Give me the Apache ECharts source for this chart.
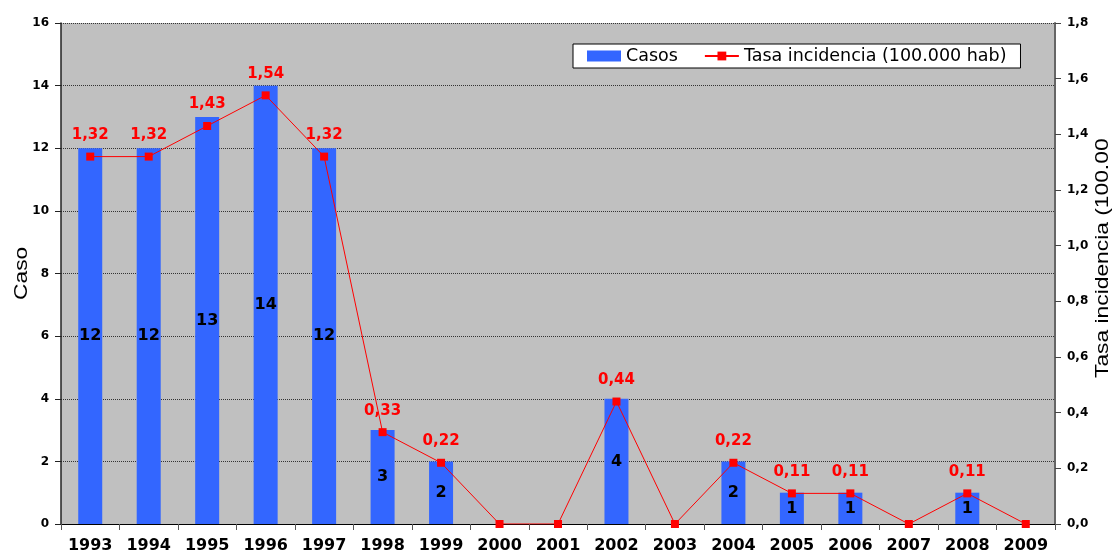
<!DOCTYPE html>
<html>
<head>
<meta charset="utf-8">
<script src="https://cdn.jsdelivr.net/npm/echarts@6/dist/echarts.min.js"></script>
<style>
  html, body { margin: 0; padding: 0; background: #fff; }
  #chart { width: 1114px; height: 558px; }
</style>
</head>
<body>
<div id="chart"></div>
<script>
const years = ["1993", "1994", "1995", "1996", "1997", "1998", "1999", "2000", "2001",
  "2002", "2003", "2004", "2005", "2006", "2007", "2008", "2009"];
const casos = [12, 12, 13, 14, 12, 3, 2, 0, 0, 4, 0, 2, 1, 1, 0, 1, 0];
const tasa = [1.32, 1.32, 1.43, 1.54, 1.32, 0.33, 0.22, 0, 0, 0.44, 0, 0.22, 0.11, 0.11, 0, 0.11, 0];

const FONT = "DejaVu Sans";
const comma = (v, d) => v.toFixed(d).replace(".", ",");

const chart = echarts.init(document.getElementById("chart"));

const option = {
  animation: false,
  backgroundColor: "#fff",
  grid: {
    left: 61, right: 59, top: 23, bottom: 34,
    show: true, backgroundColor: "#C0C0C0", borderWidth: 0,
  },
  legend: {
    data: [
      { name: "Casos", icon: "rect" },
      { name: "Tasa incidencia (100.000 hab)" },
    ],
    left: 573, top: 44,
    backgroundColor: "#fff",
    borderColor: "#000",
    borderWidth: 1,
    borderRadius: 0,
    padding: [3, 14, 3, 14],
    itemGap: 26,
    itemWidth: 34,
    itemHeight: 11,
    textStyle: { fontFamily: FONT, fontSize: 17.5, color: "#000" },
  },
  xAxis: {
    type: "category",
    data: years,
    axisLine: { lineStyle: { color: "#000", width: 1 } },
    axisTick: { show: true, length: 6, lineStyle: { color: "#555" } },
    axisLabel: { fontFamily: FONT, fontWeight: "bold", fontSize: 16, color: "#000", margin: 14 },
  },
  yAxis: [
    {
      type: "value",
      min: 0, max: 16, interval: 2,
      axisLine: { show: true, lineStyle: { color: "#222", width: 1.5 } },
      axisTick: { show: true, length: 6, lineStyle: { color: "#222" } },
      axisLabel: { fontFamily: FONT, fontWeight: "bold", fontSize: 12, color: "#000", margin: 12 },
      splitLine: { show: true, lineStyle: { color: "#333", type: [1, 1], width: 1 } },
    },
    {
      type: "value",
      min: 0, max: 1.8, interval: 0.2,
      axisLine: { show: true, lineStyle: { color: "#666", width: 2 } },
      axisTick: { show: true, length: 6, lineStyle: { color: "#444" } },
      axisLabel: {
        fontFamily: FONT, fontWeight: "bold", fontSize: 12, color: "#000", margin: 12,
        formatter: (v) => comma(v, 1),
      },
      splitLine: { show: false },
    },
  ],
  series: [
    {
      name: "Casos",
      type: "bar",
      data: casos,
      barWidth: 24,
      itemStyle: { color: "#3366FF" },
      label: {
        show: true,
        position: "inside",
        fontFamily: FONT, fontWeight: "bold", fontSize: 16, color: "#000",
        formatter: (p) => (p.value ? String(p.value) : ""),
      },
      z: 2,
    },
    {
      name: "Tasa incidencia (100.000 hab)",
      type: "line",
      yAxisIndex: 1,
      data: tasa,
      symbol: "rect",
      symbolSize: 8,
      itemStyle: { color: "#FF0000" },
      lineStyle: { color: "#FF0000", width: 1 },
      label: {
        show: true,
        position: "top",
        distance: 10,
        fontFamily: FONT, fontWeight: "bold", fontSize: 15, color: "#FF0000",
        formatter: (p) => (p.value ? comma(p.value, 2) : ""),
      },
      z: 3,
    },
  ],
  graphic: [
    {
      type: "text",
      x: 22, y: 300,
      rotation: Math.PI / 2,
      scaleX: 1.2,
      style: {
        text: "Casos",
        fontFamily: "Liberation Sans", fontSize: 19, fill: "#000",
        align: "left", verticalAlign: "middle",
        width: 46, overflow: "truncate", ellipsis: "",
      },
    },
    {
      type: "text",
      x: 1103, y: 378,
      rotation: Math.PI / 2,
      scaleX: 1.2,
      style: {
        text: "Tasa incidencia (100.000 hab)",
        fontFamily: "Liberation Sans", fontSize: 19, fill: "#000",
        align: "left", verticalAlign: "middle",
        width: 206, overflow: "truncate", ellipsis: "",
      },
    },
  ],
};

chart.setOption(option);
</script>
</body>
</html>
